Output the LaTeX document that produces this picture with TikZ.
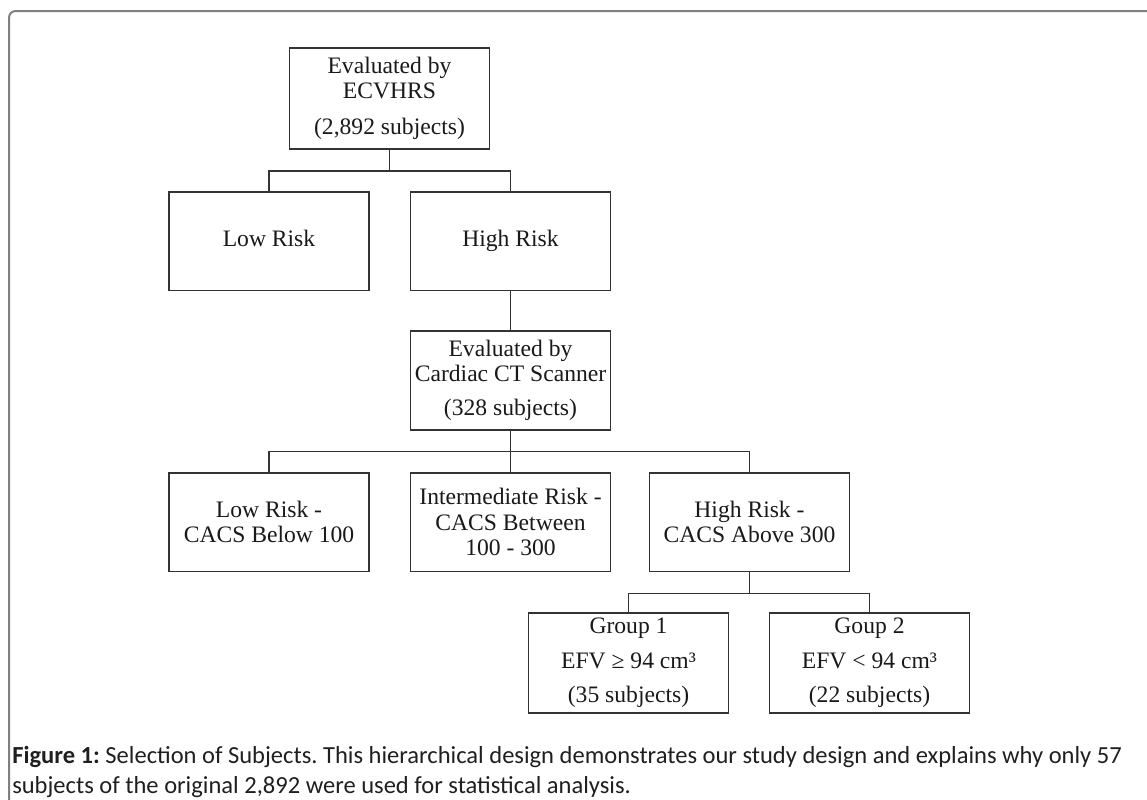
\documentclass[tikz,border=0pt]{standalone}
\usepackage{fontspec}
\setmainfont{Liberation Serif}
\newfontfamily\capfont{Carlito}
\frenchspacing
\definecolor{boxgray}{HTML}{333333}
\definecolor{framegray}{HTML}{808080}
\tikzset{every picture/.style={x=0.75pt, y=-0.75pt}}
\tikzset{box/.style={draw=boxgray, line width=1.25pt, minimum width=150pt, minimum height=74pt,
    align=center, inner sep=2pt, text=black!90, font=\fontsize{17.7}{19}\selectfont}}
\tikzset{link/.style={draw=boxgray, line width=1pt}}

\begin{document}
\begin{tikzpicture}
\useasboundingbox (0,0) rectangle (1147,800);
\draw[framegray, line width=1.5pt, rounded corners=5pt] (9,11) rectangle (1170,830);
% screening
\node[box, minimum height=76pt] (ecv) at (389.5,98.5) {Evaluated by\\ECVHRS\\[8pt](2,892 subjects)};
\node[box] (low) at (269,241) {Low Risk\strut};
\node[box] (high) at (510.5,241) {High Risk\strut};
% CT scan
\node[box] (ct) at (510.5,380.5) {Evaluated by\\Cardiac CT Scanner\\[6.5pt](328 subjects)};
\node[box] (cacsl) at (269,522) {Low Risk -\\CACS Below 100};
\node[box] (cacsm) at (510.5,522) {Intermediate Risk -\\CACS Between\\100 - 300};
\node[box] (cacsh) at (749.5,522) {High Risk -\\CACS Above 300};
% EFV groups
\node[box, minimum height=75pt] (g1) at (628.5,663) {Group 1\\[7pt]EFV ≥ 94 cm³\\[7pt](35 subjects)};
\node[box, minimum height=75pt] (g2) at (869.5,663) {Goup 2\\[7pt]EFV < 94 cm³\\[7pt](22 subjects)};

\foreach \a/\b in {ecv/low, ecv/high, ct/cacsl, ct/cacsm, ct/cacsh, cacsh/g1, cacsh/g2}
    \draw[link] (\a.south) -- ++(0,21) -| (\b.north);
\draw[link] (high) -- (ct);

\node[anchor=north west, inner sep=0pt, align=left, text=black!88,
    font=\capfont\fontsize{18.4}{22.5}\selectfont] (caption) at (12,746)
    {\textbf{Figure 1:} Selection of Subjects. This hierarchical design demonstrates our study design and explains why only 57\\
    subjects of the original 2,892 were used for statistical analysis.};
\end{tikzpicture}
\end{document}
